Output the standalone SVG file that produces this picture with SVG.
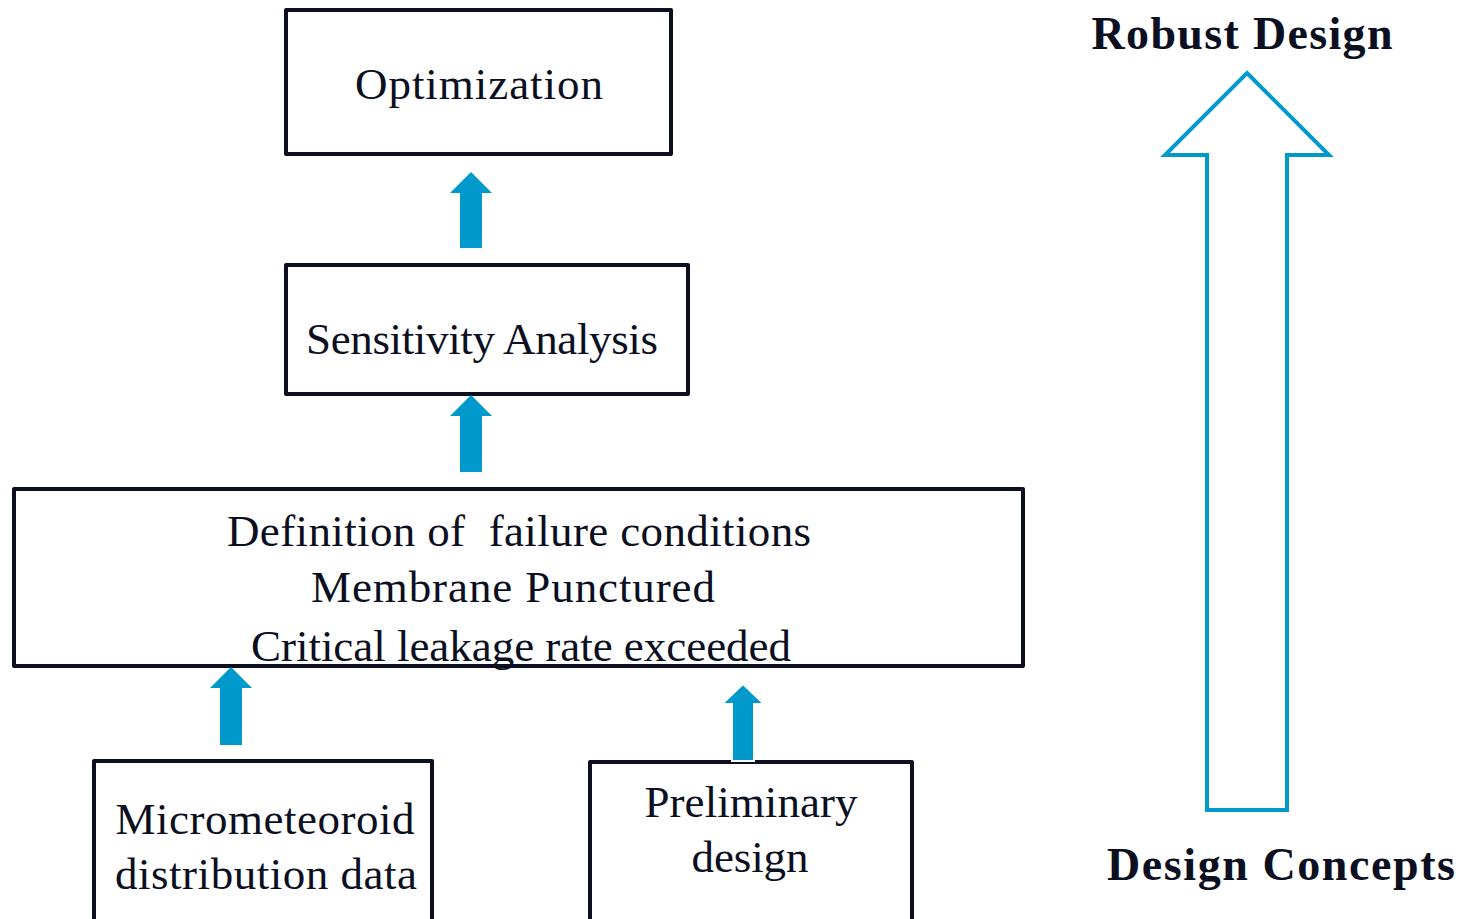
<svg xmlns="http://www.w3.org/2000/svg" width="1463" height="919" viewBox="0 0 1463 919">
<style>
.box{fill:#fff;stroke:#0b0f1f;stroke-width:4;stroke-linejoin:round}
.t{font-family:"Liberation Serif",serif;font-size:45px;fill:#0b0f1f;text-anchor:middle}
.b{font-family:"Liberation Serif",serif;font-size:46px;font-weight:bold;fill:#0b0f1f;text-anchor:middle}
.arr{fill:#0099cc}
</style>
<rect width="1463" height="919" fill="#fff"/>
<g id="optimization">
<rect class="box" x="286" y="10" width="385" height="144"/>
<text class="t" x="479" y="99" textLength="248">Optimization</text>
</g>
<g id="sensitivity">
<rect class="box" x="286" y="265" width="402" height="129"/>
<text class="t" x="482" y="354" textLength="352">Sensitivity Analysis</text>
</g>
<g id="definition">
<rect class="box" x="14" y="489" width="1009" height="177"/>
<text class="t" x="519" y="546" textLength="584" style="white-space:pre">Definition of  failure conditions</text>
<text class="t" x="513" y="602" textLength="404">Membrane Punctured</text>
<text class="t" x="521" y="661" textLength="540">Critical leakage rate exceeded</text>
</g>
<g id="micrometeoroid">
<rect class="box" x="94" y="761" width="338" height="180"/>
<text class="t" x="265" y="834" textLength="299">Micrometeoroid</text>
<text class="t" x="266" y="889" textLength="302">distribution data</text>
</g>
<g id="preliminary">
<rect class="box" x="590" y="762" width="322" height="180"/>
<text class="t" x="751" y="817" textLength="213">Preliminary</text>
<text class="t" x="750" y="872" textLength="117">design</text>
</g>
<g id="connectors">
<polygon class="arr" points="471,172 492,193 482,193 482,248 460,248 460,193 450,193"/>
<polygon class="arr" points="471,395 492,416 482,416 482,472 460,472 460,416 450,416"/>
<polygon class="arr" points="231,667 252,688 242,688 242,745 220,745 220,688 210,688"/>
<polygon class="arr" points="743,684 764,704 754,704 754,761 732,761 732,704 722,704" stroke="#fff" stroke-width="2"/>
</g>
<g id="robust-arrow">
<polygon points="1247,73 1329,155 1287,155 1287,810 1207,810 1207,155 1165,155" fill="none" stroke="#0099cc" stroke-width="4"/>
<text class="b" x="1242" y="49" textLength="301">Robust Design</text>
<text class="b" x="1281" y="880" textLength="348">Design Concepts</text>
</g>
</svg>
